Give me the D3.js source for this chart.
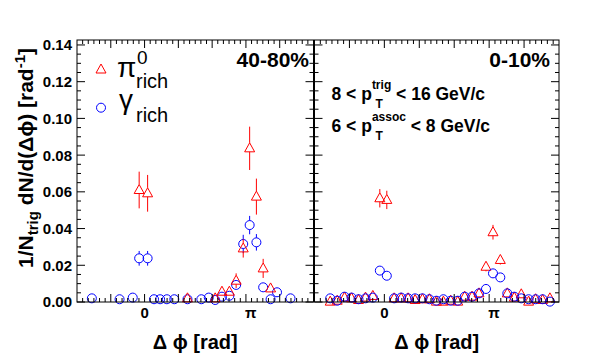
<!DOCTYPE html>
<html><head><meta charset="utf-8">
<script src="https://cdn.jsdelivr.net/npm/d3@7"></script>
<style>
body{margin:0;background:#fff}
svg{display:block}
text{font-family:"Liberation Sans",Arial,Helvetica,sans-serif}
</style>
</head><body>
<svg id="c" width="600" height="360"></svg>
<script>
// ---------------- data ----------------
const centralityLabels = ["40-80%", "0-10%"];
const yTickValues = [0, 0.02, 0.04, 0.06, 0.08, 0.10, 0.12, 0.14];
const yTickLabels = ["0.00", "0.02", "0.04", "0.06", "0.08", "0.10", "0.12", "0.14"];
const xTickValues = [0, Math.PI];
const xTickLabels = ["0", "\u03c0"];

// 40-80% panel
const leftPi0X   = [-0.16, 0.09, 1.27, 2.09, 2.29, 2.51, 2.71, 2.92, 3.11, 3.31, 3.51, 3.73];
const leftPi0Y   = [0.0610, 0.0592, 0.0020, 0.0020, 0.0056, 0.0056, 0.0116, 0.0292, 0.0837, 0.0574, 0.0183, 0.0074];
const leftPi0Err = [0.0100, 0.0100, 0.0010, 0.0010, 0.0015, 0.0015, 0.0040, 0.0050, 0.0118, 0.0098, 0.0052, 0.0020];

const leftGamX   = [-1.56, -0.74, -0.35, -0.16, 0.09, 0.28, 0.46, 0.66, 0.88, 1.27, 1.68, 1.90, 2.09, 2.29, 2.51, 2.71, 2.92, 3.11, 3.31, 3.51, 3.73, 3.92, 4.32];
const leftGamY   = [0.0020, 0.0015, 0.0024, 0.0238, 0.0238, 0.0015, 0.0015, 0.0015, 0.0015, 0.0015, 0.0015, 0.0024, 0.0011, 0.0029, 0.0034, 0.0093, 0.0316, 0.0419, 0.0325, 0.0080, 0.0015, 0.0053, 0.0020];
const leftGamErr = [0.0010, 0.0010, 0.0010, 0.0040, 0.0040, 0.0008, 0.0008, 0.0008, 0.0008, 0.0008, 0.0008, 0.0010, 0.0010, 0.0012, 0.0012, 0.0020, 0.0050, 0.0050, 0.0045, 0.0015, 0.0010, 0.0015, 0.0010];

// 0-10% panel
const rightX = [-1.55, -1.35, -1.14, -0.94, -0.74, -0.54, -0.33, -0.13, 0.07, 0.28, 0.48, 0.68, 0.88, 1.09, 1.29, 1.49,
                1.69, 1.90, 2.10, 2.30, 2.51, 2.71, 2.91, 3.11, 3.32, 3.52, 3.72, 3.92, 4.13, 4.33, 4.53, 4.74];
const rightPi0Y   = [0.0002, 0.0007, 0.0024, 0.0020, 0.0011, 0.0024, 0.0033, 0.0565, 0.0556, 0.0020, 0.0020, 0.0020, 0.0011, 0.0015, 0.0015, 0.0002,
                     0.0002, 0.0007, 0.0002, 0.0029, 0.0029, 0.0047, 0.0192, 0.0380, 0.0229, 0.0047, 0.0024, 0.0042, 0.0002, 0.0015, 0.0011, 0.0020];
const rightPi0Err = [0.0010, 0.0010, 0.0010, 0.0010, 0.0010, 0.0010, 0.0012, 0.0050, 0.0050, 0.0010, 0.0010, 0.0010, 0.0010, 0.0010, 0.0010, 0.0010,
                     0.0010, 0.0010, 0.0010, 0.0010, 0.0010, 0.0012, 0.0025, 0.0040, 0.0025, 0.0012, 0.0010, 0.0012, 0.0010, 0.0010, 0.0010, 0.0010];
const rightGamY   = [0.0020, 0.0007, 0.0029, 0.0024, 0.0015, 0.0020, 0.0024, 0.0171, 0.0143, 0.0020, 0.0024, 0.0020, 0.0020, 0.0020, 0.0015, 0.0007,
                     0.0015, 0.0007, 0.0007, 0.0029, 0.0029, 0.0047, 0.0071, 0.0156, 0.0134, 0.0047, 0.0029, 0.0020, 0.0015, 0.0015, 0.0015, 0.0002];
const rightGamErr = [0.0006, 0.0006, 0.0006, 0.0006, 0.0006, 0.0006, 0.0006, 0.0012, 0.0012, 0.0006, 0.0006, 0.0006, 0.0006, 0.0006, 0.0006, 0.0006,
                     0.0006, 0.0006, 0.0006, 0.0006, 0.0006, 0.0008, 0.0010, 0.0012, 0.0012, 0.0008, 0.0006, 0.0006, 0.0006, 0.0006, 0.0006, 0.0006];

// ---------------- layout ----------------
const RED = "#ff0000", BLUE = "#0000ff";
const yTop = 40, yBot = 302;
const xDomain = [-2, 5];
const panels = [
  { x0: 77, x1: 313.5, label: centralityLabels[0], labelInset: 4.5,
    series: [
      { type: "circle", color: BLUE, x: leftGamX, y: leftGamY, e: leftGamErr },
      { type: "tri", color: RED, x: leftPi0X, y: leftPi0Y, e: leftPi0Err } ] },
  { x0: 314.5, x1: 559, label: centralityLabels[1], labelInset: 9,
    series: [
      { type: "tri", color: RED, x: rightX, y: rightPi0Y, e: rightPi0Err },
      { type: "circle", color: BLUE, x: rightX, y: rightGamY, e: rightGamErr } ] }
];

const svg = d3.select("#c");
svg.append("rect").attr("width", 600).attr("height", 360).attr("fill", "#fff");

const y = d3.scaleLinear().domain([0, 0.1427]).range([yBot, yTop]);
const R = 4.5;           // circle radius
const TRI = 5;           // triangle half width

function triPath(cx, cy) {
  return `M${cx},${cy - 5.5}L${cx + TRI},${cy + 3.5}L${cx - TRI},${cy + 3.5}Z`;
}

panels.forEach((p, pi) => {
  const x = d3.scaleLinear().domain(xDomain).range([p.x0, p.x1]);
  p.xs = x;
  const g = svg.append("g");

  // data
  p.series.forEach(s => {
    const sg = g.append("g").attr("stroke", s.color).attr("fill", "none").attr("stroke-width", 1);
    s.x.forEach((xv, i) => {
      const cx = x(xv), cy = y(s.y[i]);
      const yHi = y(s.y[i] + s.e[i]), yLo = y(s.y[i] - s.e[i]);
      const gapTop = s.type === "tri" ? 5.5 : R;
      const gapBot = s.type === "tri" ? 3.5 : R;
      if (cy - gapTop > yHi) sg.append("line").attr("x1", cx).attr("x2", cx).attr("y1", yHi).attr("y2", cy - gapTop);
      if (cy + gapBot < yLo) sg.append("line").attr("x1", cx).attr("x2", cx).attr("y1", cy + gapBot).attr("y2", Math.min(yLo, 360));
      if (s.type === "circle") sg.append("circle").attr("cx", cx).attr("cy", cy).attr("r", R);
      else sg.append("path").attr("d", triPath(cx, cy));
    });
  });

  // frame
  const fg = svg.append("g").attr("stroke", "#000").attr("stroke-width", 1).attr("fill", "none");
  fg.append("rect").attr("x", p.x0).attr("y", yTop).attr("width", p.x1 - p.x0).attr("height", yBot - yTop);

  // x ticks (bottom and top)
  const minorX = d3.range(0, 43).map(k => -2 + k / 6);
  minorX.forEach(v => {
    const isMajor = Math.abs(v - Math.round(v)) < 1e-6;
    const L = isMajor ? 8 : 4;
    const xx = x(v);
    if (xx <= p.x0 + 0.5 || xx >= p.x1 - 0.5) return;
    fg.append("line").attr("x1", xx).attr("x2", xx).attr("y1", yBot).attr("y2", yBot - L);
    fg.append("line").attr("x1", xx).attr("x2", xx).attr("y1", yTop).attr("y2", yTop + L);
  });
  // y ticks (left and right)
  const minorY = d3.range(0, 29).map(k => k * 0.005);
  minorY.forEach((v, k) => {
    const L = (k % 4 === 0) ? 8 : 4;
    const yy = y(v);
    if (yy < yTop) return;
    fg.append("line").attr("x1", p.x0).attr("x2", p.x0 + L).attr("y1", yy).attr("y2", yy);
    fg.append("line").attr("x1", p.x1).attr("x2", p.x1 - L).attr("y1", yy).attr("y2", yy);
  });

  // x tick labels
  xTickValues.forEach((v, i) => {
    svg.append("text").attr("x", x(v)).attr("y", 318).attr("text-anchor", "middle")
      .attr("font-size", 15).attr("font-weight", "bold").text(xTickLabels[i]);
  });

  // x title
  svg.append("text").attr("x", (p.x0 + p.x1) / 2).attr("y", 349).attr("text-anchor", "middle")
    .attr("font-size", 20).attr("font-weight", "bold").text("\u0394 \u03d5 [rad]");

  // centrality label
  svg.append("text").attr("x", p.x1 - p.labelInset).attr("y", 67).attr("text-anchor", "end")
    .attr("font-size", 21).attr("font-weight", "bold").text(p.label);
});

// y tick labels (left panel only)
yTickValues.forEach((v, i) => {
  svg.append("text").attr("x", 72).attr("y", y(v)).attr("dy", "0.36em").attr("text-anchor", "end")
    .attr("font-size", 15).attr("font-weight", "bold").text(yTickLabels[i]);
});

// y title
{
  const t = svg.append("text").attr("transform", "translate(33,158) rotate(-90)")
    .attr("text-anchor", "middle").attr("font-size", 21).attr("font-weight", "bold");
  t.append("tspan").text("1/N");
  t.append("tspan").attr("font-size", 15).attr("dy", 5).text("trig");
  t.append("tspan").attr("dy", -5).text(" dN/d(\u0394\u03d5) [rad");
  t.append("tspan").attr("font-size", 15).attr("dy", -8).text("-1");
  t.append("tspan").attr("dy", 8).text("]");
}

// legend (left panel)
{
  const lp = panels[0];
  const mx = lp.x0 + 24;
  svg.append("path").attr("d", triPath(mx, 69.5)).attr("fill", "none").attr("stroke", RED);
  svg.append("circle").attr("cx", mx).attr("cy", 107.7).attr("r", R).attr("fill", "none").attr("stroke", BLUE);
  svg.append("text").attr("x", lp.x0 + 40).attr("y", 77).attr("font-size", 28).text("\u03c0");
  svg.append("text").attr("x", lp.x0 + 60).attr("y", 64).attr("font-size", 19).text("0");
  svg.append("text").attr("x", lp.x0 + 59).attr("y", 88).attr("font-size", 20).text("rich");
  svg.append("text").attr("x", lp.x0 + 42).attr("y", 109).attr("font-size", 28).text("\u03b3");
  svg.append("text").attr("x", lp.x0 + 59).attr("y", 122).attr("font-size", 20).text("rich");
}

// kinematic text (right panel)
{
  const rp = panels[1];
  const lines = [
    { y: 100, pre: "8 < p", sup: "trig", post: " < 16 GeV/c" },
    { y: 132, pre: "6 < p", sup: "assoc", post: " < 8 GeV/c" }
  ];
  lines.forEach(l => {
    const t = svg.append("text").attr("x", rp.x0 + 17).attr("y", l.y)
      .attr("font-size", 17.5).attr("font-weight", "bold");
    t.append("tspan").text(l.pre);
    t.append("tspan").attr("font-size", 12).attr("dy", -11).text(l.sup);
    t.append("tspan").attr("dy", 11).text(l.post);
    svg.append("text").attr("x", rp.x0 + 61).attr("y", l.y + 8)
      .attr("font-size", 12).attr("font-weight", "bold").text("T");
  });
}
</script>
</body></html>
